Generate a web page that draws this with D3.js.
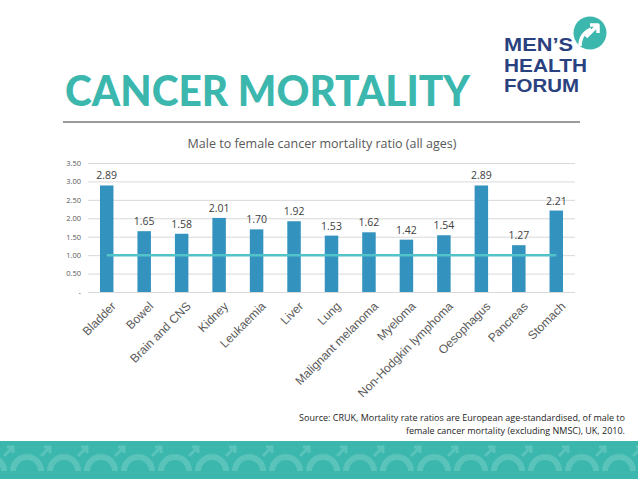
<!DOCTYPE html>
<head>
    <meta charset="utf-8">
    <title>Cancer mortality</title>
    <style>
        body { margin: 0; background: #fff; }
        svg { display: block; }
    </style>
</head>

<body>

    <svg width="638" height="479"></svg>

    <script src="https://d3js.org/d3.v7.min.js"></script>

    <script>

        // chart values
        var categories = ["Bladder", "Bowel", "Brain and CNS", "Kidney", "Leukaemia", "Liver", "Lung",
            "Malignant melanoma", "Myeloma", "Non-Hodgkin lymphoma", "Oesophagus", "Pancreas", "Stomach"];
        var ratios = [2.89, 1.65, 1.58, 2.01, 1.70, 1.92, 1.53, 1.62, 1.42, 1.54, 2.89, 1.27, 2.21];
        var parity = 1.0;
        var yTicks = [0, 0.5, 1, 1.5, 2, 2.5, 3, 3.5];
        var yTickLabels = ["-", "0.50", "1.00", "1.50", "2.00", "2.50", "3.00", "3.50"];

        var svg = d3.select("svg"),
            width = +svg.attr("width"),
            height = +svg.attr("height");

        var teal = "#3cb7ae",
            navy = "#2a4180",
            barColor = "#3492bf",
            lineColor = "#52c3c9";

        // ---- header ----
        svg.append("text")
            .attr("x", 65).attr("y", 106)
            .attr("textLength", 405).attr("lengthAdjust", "spacingAndGlyphs")
            .style("font-family", "Lato, 'Open Sans', sans-serif")
            .style("font-weight", 900)
            .style("font-size", "42px")
            .style("fill", teal)
            .text("CANCER MORTALITY");

        svg.append("line")
            .attr("x1", 63).attr("x2", 580)
            .attr("y1", 122).attr("y2", 122)
            .style("stroke", "#7a7a7a").style("stroke-width", 1.3);

        // logo
        var logo = svg.append("g");
        [["MEN\u2019S", 51, 69], ["HEALTH", 71.5, 83], ["FORUM", 92, 75]].forEach(function (l) {
            logo.append("text")
                .attr("x", 504).attr("y", l[1])
                .attr("textLength", l[2]).attr("lengthAdjust", "spacingAndGlyphs")
                .style("font-family", "'Liberation Sans', Arial, sans-serif")
                .style("font-weight", "bold")
                .style("font-size", "18.3px")
                .style("fill", navy)
                .text(l[0]);
        });
        logo.append("circle").attr("cx", 590).attr("cy", 33).attr("r", 16.5).style("fill", teal);
        logo.append("path")
            .attr("d", "M580,46 Q580,34 591,29")
            .style("fill", "none").style("stroke", "#fff").style("stroke-width", 3.5);
        logo.append("path")
            .attr("d", "M586,37 L597,26 M590,25 L598,25 L598,33")
            .style("fill", "none").style("stroke", "#fff").style("stroke-width", 3.5)
            .style("stroke-linejoin", "round");

        // ---- chart ----
        var x = d3.scaleBand()
            .domain(categories)
            .range([88, 575])
            .paddingInner(0.64)
            .paddingOuter(0.32);

        var y = d3.scaleLinear()
            .domain([0, 3.5])
            .range([292, 163]);

        svg.append("text")
            .attr("x", 322).attr("y", 148)
            .style("text-anchor", "middle")
            .style("font-family", "'Open Sans', sans-serif")
            .style("font-size", "12.5px")
            .style("fill", "#595959")
            .text("Male to female cancer mortality ratio (all ages)");

        // gridlines + y tick labels
        var yAxis = svg.append("g")
            .attr("transform", "translate(88,0)")
            .call(d3.axisLeft(y)
                .tickValues(yTicks)
                .tickSize(-(575 - 88))
                .tickPadding(7)
                .tickFormat(function (d, i) { return yTickLabels[i]; }));
        yAxis.select(".domain").remove();
        yAxis.selectAll(".tick line").style("stroke", "#d9d9d9");
        yAxis.selectAll(".tick text")
            .style("font-family", "'Open Sans', sans-serif")
            .style("font-size", "7.5px")
            .style("fill", "#595959");

        // bars
        svg.selectAll(".bar")
            .data(ratios)
            .enter().append("rect")
            .attr("class", "bar")
            .attr("x", function (d, i) { return x(categories[i]); })
            .attr("width", x.bandwidth())
            .attr("y", function (d) { return y(d); })
            .attr("height", function (d) { return y(0) - y(d); })
            .style("fill", barColor);

        // parity line at 1.00, from first to last bar centre
        svg.append("line")
            .attr("x1", x(categories[0]) + x.bandwidth() / 2)
            .attr("x2", x(categories[categories.length - 1]) + x.bandwidth() / 2)
            .attr("y1", y(parity)).attr("y2", y(parity))
            .style("stroke", lineColor).style("stroke-width", 2.5);

        // value labels
        svg.selectAll(".val")
            .data(ratios)
            .enter().append("text")
            .attr("class", "val")
            .attr("x", function (d, i) { return x(categories[i]) + x.bandwidth() / 2; })
            .attr("y", function (d) { return y(d) - 6; })
            .style("text-anchor", "middle")
            .style("font-family", "'Open Sans', sans-serif")
            .style("font-size", "10.5px")
            .style("fill", "#404040")
            .text(function (d) { return d.toFixed(2); });

        // rotated category labels
        svg.selectAll(".cat")
            .data(categories)
            .enter().append("text")
            .attr("class", "cat")
            .attr("transform", function (d) {
                return "translate(" + (x(d) + x.bandwidth() / 2 + 4) + ",301) rotate(-45)";
            })
            .attr("dy", "0.7em")
            .style("text-anchor", "end")
            .style("font-family", "'Liberation Sans', Arial, sans-serif")
            .style("font-size", "12px")
            .style("fill", "#595959")
            .text(function (d) { return d; });

        // source note
        var src = svg.append("text")
            .style("text-anchor", "end")
            .style("font-family", "'Open Sans', sans-serif")
            .style("font-size", "9px")
            .style("fill", "#262626");
        src.append("tspan").attr("x", 625).attr("y", 421)
            .text("Source: CRUK, Mortality rate ratios are European age-standardised, of male to");
        src.append("tspan").attr("x", 625).attr("y", 434)
            .text("female cancer mortality (excluding NMSC), UK, 2010.");

        // ---- footer band ----
        var band = svg.append("g");
        band.append("rect")
            .attr("x", 0).attr("y", 441).attr("width", width).attr("height", height - 441)
            .style("fill", teal);
        d3.range(-10, width + 40, 37).forEach(function (cx) {
            band.append("path")
                .attr("d", "M" + (cx - 14) + ",471 A14,14 0 0 1 " + (cx + 14) + ",471")
                .style("fill", "none").style("stroke", "#62c6bd").style("stroke-width", 6)
                .style("opacity", 0.8);
            band.append("path")
                .attr("d", "M" + (cx + 14) + ",456 L" + (cx + 22) + ",448 M" + (cx + 17) + ",447 L" + (cx + 23) + ",447 L" + (cx + 23) + ",453")
                .style("fill", "none").style("stroke", "#62c6bd").style("stroke-width", 3)
                .style("opacity", 0.8);
        });
        band.append("rect")
            .attr("x", 0).attr("y", 471).attr("width", width).attr("height", height - 471)
            .style("fill", teal);

    </script>
</body>
